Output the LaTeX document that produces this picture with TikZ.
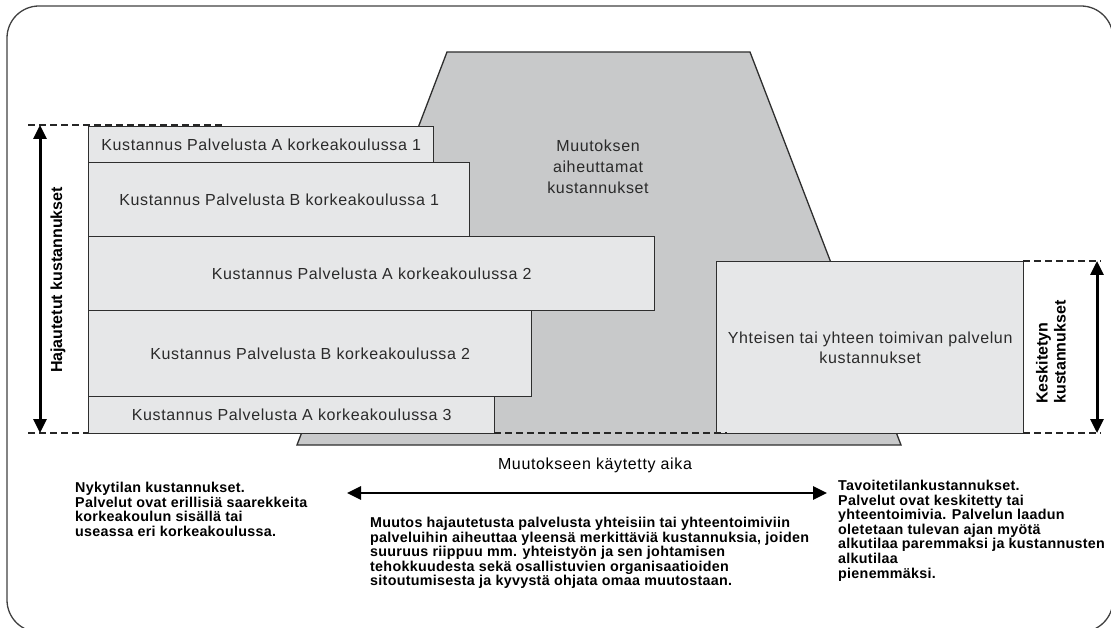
\documentclass[tikz,border=0pt]{standalone}
\usepackage{fontspec}
\setmainfont{Liberation Sans}
\newfontfamily\trackfont[LetterSpace=4]{Liberation Sans}
\newfontfamily\parafont[LetterSpace=2]{Liberation Sans}
\usetikzlibrary{arrows.meta}
\definecolor{linec}{HTML}{2E2E2E}
\definecolor{boxfill}{HTML}{E6E7E8}
\definecolor{trapfill}{HTML}{C8C9CA}
\definecolor{boxtext}{HTML}{2A2A2A}
\definecolor{framec}{HTML}{404040}
\begin{document}
\begin{tikzpicture}[x=1pt,y=-1pt,
  costbox/.style={draw=linec, line width=1.3pt, fill=boxfill, anchor=north west,
    inner sep=0pt, font=\trackfont\fontsize{16}{19}\selectfont, text=boxtext},
  trapshape/.style={draw=linec, line width=1.3pt, fill=trapfill},
  guide/.style={draw=black!85, line width=2.3pt, dash pattern=on 7pt off 4pt},
  bigarrow/.style={draw=black, line width=3pt, {Triangle[length=14pt,width=13pt]}-{Triangle[length=14pt,width=13pt]}},
  sidelabel/.style={font=\bfseries\fontsize{16}{18}\selectfont, rotate=90, inner sep=0pt},
  para/.style={font=\parafont\bfseries\fontsize{14.3}{14.6}\selectfont, align=left, anchor=north west, inner sep=0pt, text=black},
  plainlabel/.style={font=\trackfont\fontsize{16}{21}\selectfont, align=center, inner sep=0pt, text=boxtext}
]
\useasboundingbox (0,0) rectangle (1111,628);
% outer frame
\draw[framec, line width=1.3pt, rounded corners=32pt] (7,6) rectangle (1113,632);

% trapezoid of transition costs
\draw[trapshape] (447,52) -- (750,52) -- (901,445) -- (297,445) -- cycle;
\node[plainlabel] (trapl) at (598,167) {Muutoksen\\aiheuttamat\\kustannukset};

% stacked cost boxes
\node[costbox, minimum width=345pt, minimum height=36pt] (a1) at (88,126) {Kustannus Palvelusta A korkeakoulussa 1};
\node[costbox, minimum width=381pt, minimum height=74pt] (b1) at (88,162) {Kustannus Palvelusta B korkeakoulussa 1};
\node[costbox, minimum width=566pt, minimum height=74pt] (a2) at (88,236) {Kustannus Palvelusta A korkeakoulussa 2};
\node[costbox, minimum width=443pt, minimum height=86pt] (b2) at (88,310) {Kustannus Palvelusta B korkeakoulussa 2};
\node[costbox, minimum width=406pt, minimum height=37pt] (a3) at (88,396) {Kustannus Palvelusta A korkeakoulussa 3};

% right box
\node[costbox, minimum width=307pt, minimum height=172pt, align=center, font=\trackfont\fontsize{16}{20}\selectfont] (rb) at (716,261) {Yhteisen tai yhteen toimivan palvelun\\kustannukset};

% dashed guide lines
\coordinate (tlA) at (28,125);
\coordinate (tlB) at (224,125);
\coordinate (blA) at (28,433);
\coordinate (blB) at (88,433);
\coordinate (bmA) at (494,433);
\coordinate (bmB) at (727,433);
\coordinate (trA) at (1023,261);
\coordinate (trB) at (1101,261);
\coordinate (brA) at (1023,433);
\coordinate (brB) at (1101,433);
\draw[guide] (tlA) -- (tlB);
\draw[guide] (blA) -- (blB);
\draw[guide] (bmA) -- (bmB);
\draw[guide] (trA) -- (trB);
\draw[guide] (brA) -- (brB);

% vertical arrows
\coordinate (lvT) at (40,125);
\coordinate (lvB) at (40,433);
\draw[bigarrow] (lvT) -- (lvB);
\node[sidelabel] (hl) at (58,280) {Hajautetut kustannukset};

\coordinate (rvT) at (1097,261);
\coordinate (rvB) at (1097,433);
\draw[bigarrow] (rvT) -- (rvB);
\node[sidelabel, align=left] (kl) at (1051,352) {Keskitetyn\\kustannukset};

% time arrow
\node[plainlabel, text=black] (aika) at (595,465) {Muutokseen käytetty aika};
\coordinate (hL) at (347,493);
\coordinate (hR) at (827,493);
\draw[bigarrow, line width=2.6pt] (hL) -- (hR);

% paragraphs
\node[para] (pl) at (75,482) {Nykytilan kustannukset.\\Palvelut ovat erillisiä saarekkeita\\korkeakoulun sisällä tai\\useassa eri korkeakoulussa.};
\node[para] (pm) at (370,517) {Muutos hajautetusta palvelusta yhteisiin tai yhteentoimiviin\\palveluihin aiheuttaa yleensä merkittäviä kustannuksia, joiden\\suuruus riippuu mm. yhteistyön ja sen johtamisen\\tehokkuudesta sekä osallistuvien organisaatioiden\\sitoutumisesta ja  kyvystä ohjata omaa muutostaan.};
\node[para] (pr) at (838,480) {Tavoitetilankustannukset.\\Palvelut ovat keskitetty tai\\yhteentoimivia. Palvelun laadun\\oletetaan tulevan ajan myötä\\alkutilaa paremmaksi ja kustannusten\\alkutilaa\\pienemmäksi.};
\end{tikzpicture}
\end{document}
